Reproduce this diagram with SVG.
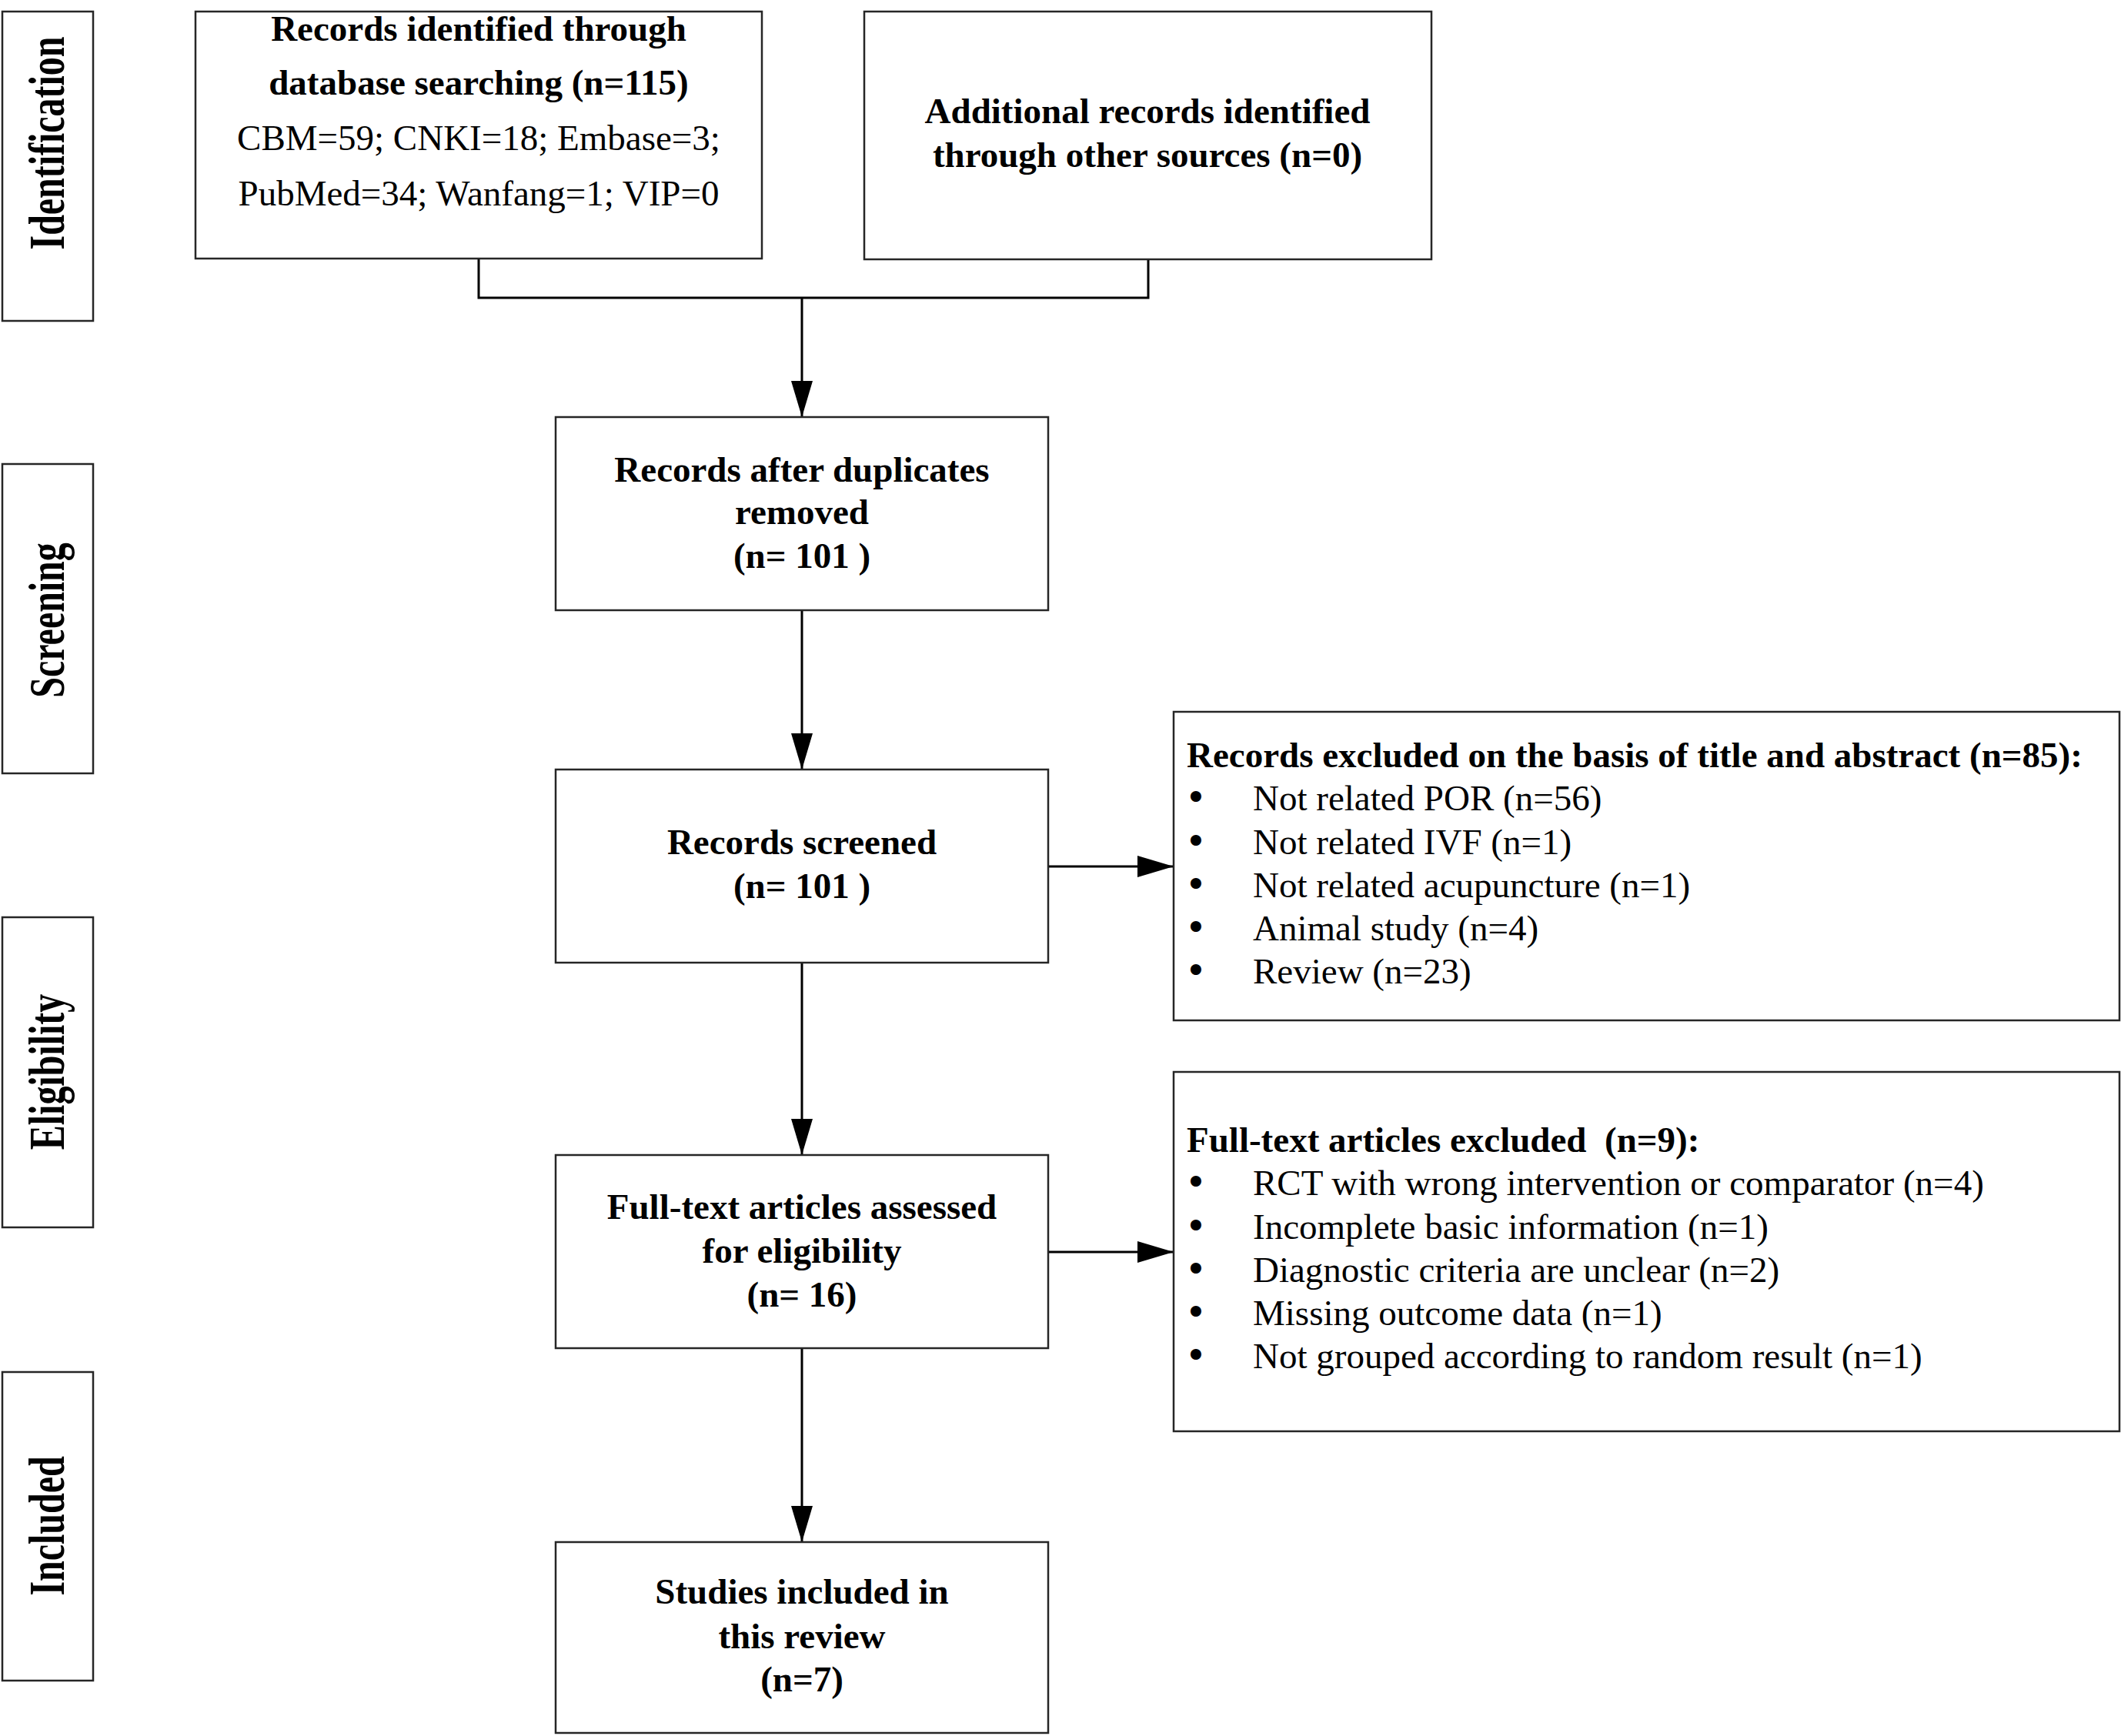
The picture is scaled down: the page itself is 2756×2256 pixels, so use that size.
<svg xmlns="http://www.w3.org/2000/svg" width="2756" height="2256" viewBox="0 0 2756 2256">
<defs>
<style>
.box{fill:#ffffff;stroke:#262626;stroke-width:2.5}
.con{fill:none;stroke:#000000;stroke-width:3}
.b{font-family:"Liberation Serif","Times New Roman",serif;font-weight:bold;font-size:47px;fill:#000;text-anchor:middle}
.r{font-family:"Liberation Serif","Times New Roman",serif;font-size:47px;fill:#000}
.t{font-family:"Liberation Serif","Times New Roman",serif;font-weight:bold;font-size:47px;fill:#000}
.dot{font-family:"DejaVu Sans",sans-serif;font-size:48px;fill:#000;text-anchor:middle}
.side{font-family:"Liberation Serif","Times New Roman",serif;font-weight:bold;font-size:47px;fill:#000;text-anchor:middle}
</style>
<marker id="ah" viewBox="0 0 47 28" markerWidth="47" markerHeight="28" refX="47" refY="14" orient="auto" markerUnits="userSpaceOnUse">
<path d="M0,0 L47,14 L0,28 Z" fill="#000"/>
</marker>
</defs>
<rect width="2756" height="2256" fill="#ffffff"/>

<g id="phase-identification">
<rect class="box" x="3" y="15" width="118" height="402"/>
<text class="side" transform="translate(83,186) rotate(-90) scale(1.02,1.38)">Identification</text>
</g>
<g id="phase-screening">
<rect class="box" x="3" y="603" width="118" height="402"/>
<text class="side" transform="translate(83,806) rotate(-90) scale(1.02,1.38)">Screening</text>
</g>
<g id="phase-eligibility">
<rect class="box" x="3" y="1192" width="118" height="403"/>
<text class="side" transform="translate(83,1393) rotate(-90) scale(1.02,1.38)">Eligibility</text>
</g>
<g id="phase-included">
<rect class="box" x="3" y="1783" width="118" height="401"/>
<text class="side" transform="translate(83,1983) rotate(-90) scale(1.02,1.38)">Included</text>
</g>

<g id="connectors">
<path class="con" d="M622,336 V387 H1492 V337"/>
<path class="con" d="M1042,387 V542" marker-end="url(#ah)"/>
<path class="con" d="M1042,793 V1000" marker-end="url(#ah)"/>
<path class="con" d="M1042,1251 V1501" marker-end="url(#ah)"/>
<path class="con" d="M1042,1752 V2004" marker-end="url(#ah)"/>
<path class="con" d="M1362,1126 H1525" marker-end="url(#ah)"/>
<path class="con" d="M1362,1627 H1525" marker-end="url(#ah)"/>
</g>

<g id="node-database">
<rect class="box" x="254" y="15" width="736" height="321"/>
<text class="b" x="622" y="53">Records identified through</text>
<text class="b" x="622" y="123">database searching (n=115)</text>
<text class="r" x="622" y="195" text-anchor="middle">CBM=59; CNKI=18; Embase=3;</text>
<text class="r" x="622" y="267" text-anchor="middle">PubMed=34; Wanfang=1; VIP=0</text>
</g>

<g id="node-other">
<rect class="box" x="1123" y="15" width="737" height="322"/>
<text class="b" x="1491" y="160">Additional records identified</text>
<text class="b" x="1491" y="217">through other sources (n=0)</text>
</g>

<g id="node-duplicates">
<rect class="box" x="722" y="542" width="640" height="251"/>
<text class="b" x="1042" y="626">Records after duplicates</text>
<text class="b" x="1042" y="681">removed</text>
<text class="b" x="1042" y="738">(n= 101 )</text>
</g>

<g id="node-screened">
<rect class="box" x="722" y="1000" width="640" height="251"/>
<text class="b" x="1042" y="1110">Records screened</text>
<text class="b" x="1042" y="1167">(n= 101 )</text>
</g>

<g id="node-fulltext">
<rect class="box" x="722" y="1501" width="640" height="251"/>
<text class="b" x="1042" y="1584">Full-text articles assessed</text>
<text class="b" x="1042" y="1641">for eligibility</text>
<text class="b" x="1042" y="1698">(n= 16)</text>
</g>

<g id="node-included">
<rect class="box" x="722" y="2004" width="640" height="248"/>
<text class="b" x="1042" y="2084">Studies included in</text>
<text class="b" x="1042" y="2142">this review</text>
<text class="b" x="1042" y="2198">(n=7)</text>
</g>

<g id="node-excluded-title">
<rect class="box" x="1525" y="925" width="1229" height="401"/>
<text class="t" x="1542" y="997">Records excluded on the basis of title and abstract (n=85):</text>
<text class="dot" x="1554" y="1053">•</text>
<text class="r" x="1628" y="1053">Not related POR (n=56)</text>
<text class="dot" x="1554" y="1110">•</text>
<text class="r" x="1628" y="1110">Not related IVF (n=1)</text>
<text class="dot" x="1554" y="1166">•</text>
<text class="r" x="1628" y="1166">Not related acupuncture (n=1)</text>
<text class="dot" x="1554" y="1222">•</text>
<text class="r" x="1628" y="1222">Animal study (n=4)</text>
<text class="dot" x="1554" y="1278">•</text>
<text class="r" x="1628" y="1278">Review (n=23)</text>
</g>

<g id="node-excluded-fulltext">
<rect class="box" x="1525" y="1393" width="1229" height="467"/>
<text class="t" x="1542" y="1497" xml:space="preserve">Full-text articles excluded  (n=9):</text>
<text class="dot" x="1554" y="1553">•</text>
<text class="r" x="1628" y="1553">RCT with wrong intervention or comparator (n=4)</text>
<text class="dot" x="1554" y="1610">•</text>
<text class="r" x="1628" y="1610">Incomplete basic information (n=1)</text>
<text class="dot" x="1554" y="1666">•</text>
<text class="r" x="1628" y="1666">Diagnostic criteria are unclear (n=2)</text>
<text class="dot" x="1554" y="1722">•</text>
<text class="r" x="1628" y="1722">Missing outcome data (n=1)</text>
<text class="dot" x="1554" y="1778">•</text>
<text class="r" x="1628" y="1778">Not grouped according to random result (n=1)</text>
</g>
</svg>
